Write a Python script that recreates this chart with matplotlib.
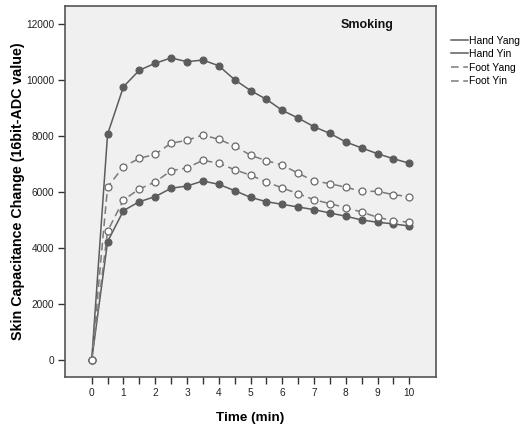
import matplotlib.pyplot as plt
import numpy as np

# time points (min)
time = [0, 0.5, 1, 1.5, 2, 2.5, 3, 3.5, 4, 4.5, 5, 5.5, 6, 6.5, 7, 7.5, 8, 8.5, 9, 9.5, 10]

hand_yang = [0, 8070, 9770, 10360, 10610, 10800, 10665, 10725, 10520, 10020, 9635,
             9320, 8925, 8650, 8340, 8100, 7795, 7580, 7375, 7195, 7035]
hand_yin = [0, 4230, 5340, 5660, 5840, 6140, 6220, 6400, 6280, 6055, 5815,
            5660, 5565, 5470, 5375, 5255, 5140, 5005, 4925, 4865, 4790]
foot_yang = [0, 6185, 6910, 7210, 7355, 7750, 7855, 8045, 7890, 7650, 7320,
             7125, 6970, 6675, 6400, 6305, 6175, 6030, 6030, 5910, 5840]
foot_yin = [0, 4610, 5720, 6115, 6365, 6770, 6865, 7140, 7035, 6805, 6605,
            6365, 6150, 5945, 5730, 5590, 5445, 5290, 5100, 4980, 4925]

xticks = list(range(0, 11))
yticks = [0, 2000, 4000, 6000, 8000, 10000, 12000]

plt.rcParams['font.family'] = ['Liberation Sans', 'DejaVu Sans']

fig = plt.figure(figsize=(5.23, 4.28), dpi=100)
ax = fig.add_axes([0.1243, 0.1192, 0.7094, 0.8668])
ax.set_facecolor('#f0f0f0')

solid_col = '#5c5c5c'
dash_col = '#7a7a7a'

# lines (also used as legend handles)
l1, = ax.plot(time, hand_yang, color=solid_col, lw=1.1, zorder=2)
l2, = ax.plot(time, hand_yin, color=solid_col, lw=1.1, zorder=2)
l3, = ax.plot(time, foot_yang, color=dash_col, lw=1.1, ls=(0, (5, 3)), zorder=2)
l4, = ax.plot(time, foot_yin, color=dash_col, lw=1.1, ls=(0, (5, 3)), zorder=2)

# markers
ax.plot(time, hand_yang, 'o', ms=5, mfc=solid_col, mec=solid_col, mew=0.8, zorder=3)
ax.plot(time, hand_yin, 'o', ms=5, mfc=solid_col, mec=solid_col, mew=0.8, zorder=3)
ax.plot(time, foot_yang, 'o', ms=5, mfc='white', mec='#6a6a6a', mew=0.9, zorder=3)
ax.plot(time, foot_yin, 'o', ms=5, mfc='white', mec='#6a6a6a', mew=0.9, zorder=4)

ax.set_xlim(-0.84, 10.84)
ax.set_ylim(-608, 12657)
ax.set_xticks(xticks)
ax.set_xticks(np.arange(0.5, 10, 1), minor=True)
ax.set_yticks(yticks)
ax.tick_params(axis='both', which='both', direction='out', length=5, width=1,
               color='#333333', labelsize=7.3, labelcolor='#222222', pad=3)

for s in ax.spines.values():
    s.set_color('#555555')
    s.set_linewidth(1.2)

ax.set_xlabel('Time (min)', fontsize=9.7, fontweight='bold', labelpad=10)
ax.set_ylabel('Skin Capacitance Change (16bit-ADC value)', fontsize=10.3,
              fontweight='bold', va='center')
ax.yaxis.set_label_coords(-0.127, 0.5)

ax.text(8.67, 11977, 'Smoking', fontsize=9, fontweight='bold',
        ha='center', va='center', color='#111111')

fig.legend([l1, l2, l3, l4], ['Hand Yang', 'Hand Yin', 'Foot Yang', 'Foot Yin'],
           loc='upper left', bbox_to_anchor=(0.862, 0.917), frameon=False,
           fontsize=7.5, handlelength=1.65, handletextpad=0.1, labelspacing=0.34,
           borderaxespad=0, borderpad=0)

fig.savefig('out.png', dpi=100)
